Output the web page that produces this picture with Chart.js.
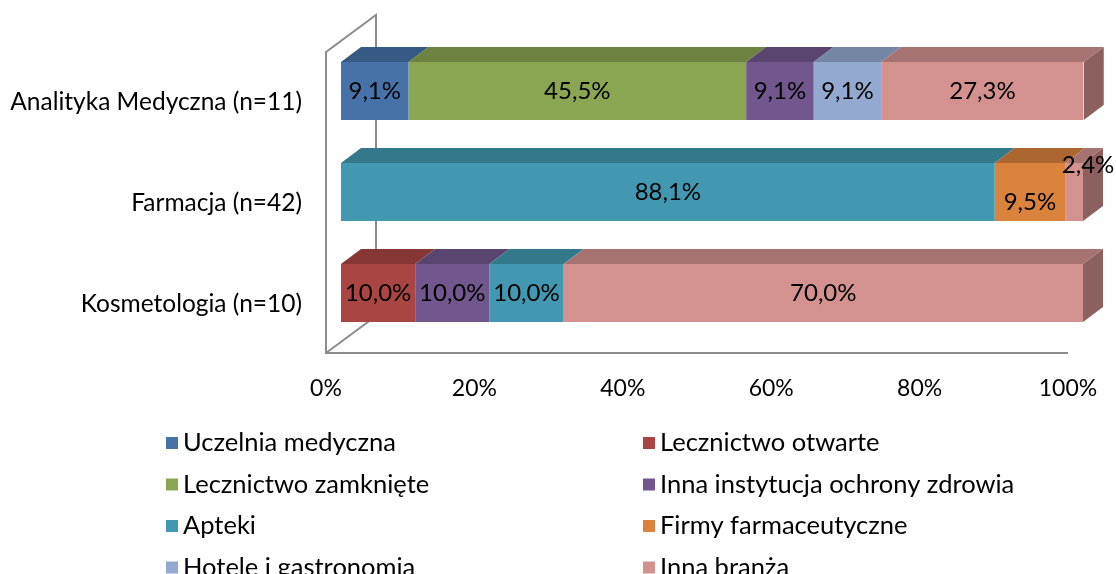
<!DOCTYPE html>
<html>
<head>
<meta charset="utf-8">
<script src="https://cdn.jsdelivr.net/npm/chart.js@4"></script>
<style>
  html, body { margin: 0; padding: 0; background: #fff; }
</style>
</head>
<body>
<canvas id="chart" width="1116" height="574"></canvas>
<script>
// categories and series (percent)
const categories = ['Analityka Medyczna (n=11)', 'Farmacja (n=42)', 'Kosmetologia (n=10)'];
const uczelnia = [9.1, 0, 0];
const lecznictwoOtwarte = [0, 0, 10.0];
const lecznictwoZamkniete = [45.5, 0, 0];
const innaInstytucja = [9.1, 0, 10.0];
const apteki = [0, 88.1, 10.0];
const firmyFarm = [0, 9.5, 0];
const hotele = [9.1, 0, 0];
const innaBranza = [27.3, 2.4, 70.0];
const xTicks = [0, 20, 40, 60, 80, 100];

const FONT = 'Lato, "Open Sans", sans-serif';
const DX = 20, DY = 15;

function shade(hex, f) {
    const n = parseInt(hex.slice(1), 16);
    const r = Math.round(((n >> 16) & 255) * f);
    const g = Math.round(((n >> 8) & 255) * f);
    const b = Math.round((n & 255) * f);
    return `rgb(${r},${g},${b})`;
}

const series = [
    ['Uczelnia medyczna', uczelnia, '#4672A8'],
    ['Lecznictwo otwarte', lecznictwoOtwarte, '#A94643'],
    ['Lecznictwo zamknięte', lecznictwoZamkniete, '#8BA652'],
    ['Inna instytucja ochrony zdrowia', innaInstytucja, '#72578F'],
    ['Apteki', apteki, '#4198B0'],
    ['Firmy farmaceutyczne', firmyFarm, '#DA833D'],
    ['Hotele i gastronomia', hotele, '#93A9D0'],
    ['Inna branża', innaBranza, '#D39190']
];

const pct = v => v.toFixed(1).replace('.', ',') + '%';

// gray box (wall + floor) behind the bars, 3D faces, labels, legend
const box3d = {
    id: 'box3d',
    beforeDatasetsDraw(chart) {
        const { ctx, chartArea, scales } = chart;
        const fx0 = scales.x.getPixelForValue(0) - 15;
        const fx1 = scales.x.getPixelForValue(100) - 15;
        const fTop = chartArea.top + 11.5;
        const fBot = chartArea.bottom + 9.5;
        const bx = 50, by = 37;
        ctx.save();
        ctx.strokeStyle = '#8c8c8c';
        ctx.lineWidth = 2;
        ctx.beginPath();
        ctx.moveTo(fx1, fBot); ctx.lineTo(fx0, fBot);
        ctx.lineTo(fx0, fTop); ctx.lineTo(fx0 + bx, fTop - by);
        ctx.lineTo(fx0 + bx, fBot - by); ctx.lineTo(fx0, fBot);
        ctx.stroke();

        // side face only on the outermost segment of each bar
        const nCat = categories.length;
        for (let c = 0; c < nCat; c++) {
            let last = null, lastCol = null;
            chart.data.datasets.forEach((ds, i) => {
                if (ds.data[c] > 0) {
                    last = chart.getDatasetMeta(i).data[c];
                    lastCol = ds.backgroundColor;
                }
            });
            if (last) {
                const top = last.y - last.height / 2, bot = last.y + last.height / 2;
                ctx.fillStyle = shade(lastCol, 0.66);
                ctx.beginPath();
                ctx.moveTo(last.x, top); ctx.lineTo(last.x + DX, top - DY);
                ctx.lineTo(last.x + DX, bot - DY); ctx.lineTo(last.x, bot);
                ctx.closePath(); ctx.fill();
            }
        }
        chart.data.datasets.forEach((ds, i) => {
            chart.getDatasetMeta(i).data.forEach((bar, c) => {
                if (!(ds.data[c] > 0)) return;
                const top = bar.y - bar.height / 2;
                ctx.fillStyle = shade(ds.backgroundColor, 0.79);
                ctx.beginPath();
                ctx.moveTo(bar.base, top); ctx.lineTo(bar.x, top);
                ctx.lineTo(bar.x + DX, top - DY); ctx.lineTo(bar.base + DX, top - DY);
                ctx.closePath(); ctx.fill();
            });
        });
        ctx.restore();
    },
    afterDatasetsDraw(chart) {
        const { ctx } = chart;
        ctx.save();
        ctx.font = '24px ' + FONT;
        ctx.fillStyle = '#000';
        ctx.textAlign = 'center';
        ctx.textBaseline = 'middle';
        const nCat = categories.length;
        for (let c = 0; c < nCat; c++) {
            const items = [];
            chart.data.datasets.forEach((ds, i) => {
                if (ds.data[c] > 0) items.push({ v: ds.data[c], bar: chart.getDatasetMeta(i).data[c] });
            });
            items.forEach((it, k) => {
                const b = it.bar;
                const txt = pct(it.v);
                const w = Math.abs(b.x - b.base);
                let x = (b.x + b.base) / 2, y = b.y;
                if (w < ctx.measureText(txt).width) {
                    x += 14; y = b.y - b.height / 2 + 2;
                } else if (items[k + 1] && Math.abs(items[k + 1].bar.x - items[k + 1].bar.base) < 30) {
                    y += 10;
                }
                ctx.fillText(txt, x, y);
            });
        }
        ctx.restore();
    },
    afterDraw(chart) {
        const { ctx } = chart;
        ctx.save();
        ctx.font = '25.5px ' + FONT;
        ctx.textBaseline = 'middle';
        ctx.textAlign = 'left';
        const colX = [166, 643];
        chart.data.datasets.forEach((ds, i) => {
            const x = colX[i % 2];
            const y = 443 + Math.floor(i / 2) * 41.5;
            ctx.fillStyle = ds.backgroundColor;
            ctx.fillRect(x, y - 6, 12, 12);
            ctx.fillStyle = '#000';
            ctx.fillText(ds.label, x + 17, y);
        });
        ctx.restore();
    }
};

new Chart(document.getElementById('chart').getContext('2d'), {
    type: 'bar',
    data: {
        labels: categories,
        datasets: series.map(([label, data, color]) => ({
            label: label,
            data: data,
            backgroundColor: color,
            borderWidth: 0,
            barPercentage: 0.574,
            categoryPercentage: 1.0
        }))
    },
    options: {
        indexAxis: 'y',
        responsive: false,
        animation: false,
        layout: { padding: { left: 0, right: 33, top: 40.5, bottom: 0 } },
        scales: {
            x: {
                stacked: true,
                min: 0,
                max: 100,
                afterBuildTicks: s => { s.ticks = xTicks.map(v => ({ value: v })); },
                afterFit: s => { s.height = 230.5; s.paddingLeft = 0; s.paddingRight = 0; },
                grid: { display: false, drawTicks: false },
                border: { display: false },
                ticks: {
                    callback: v => v + '%',
                    padding: 31,
                    labelOffset: -15,
                    color: '#000',
                    font: { family: FONT, size: 23 }
                }
            },
            y: {
                stacked: true,
                afterFit: s => { s.width = 341; s.paddingTop = 0; s.paddingBottom = 0; },
                grid: { display: false, drawTicks: false },
                border: { display: false },
                ticks: {
                    padding: 39,
                    labelOffset: 11,
                    color: '#000',
                    font: { family: FONT, size: 24.5 }
                }
            }
        },
        plugins: {
            legend: { display: false },
            tooltip: { enabled: false }
        }
    },
    plugins: [box3d]
});
</script>
</body>
</html>
